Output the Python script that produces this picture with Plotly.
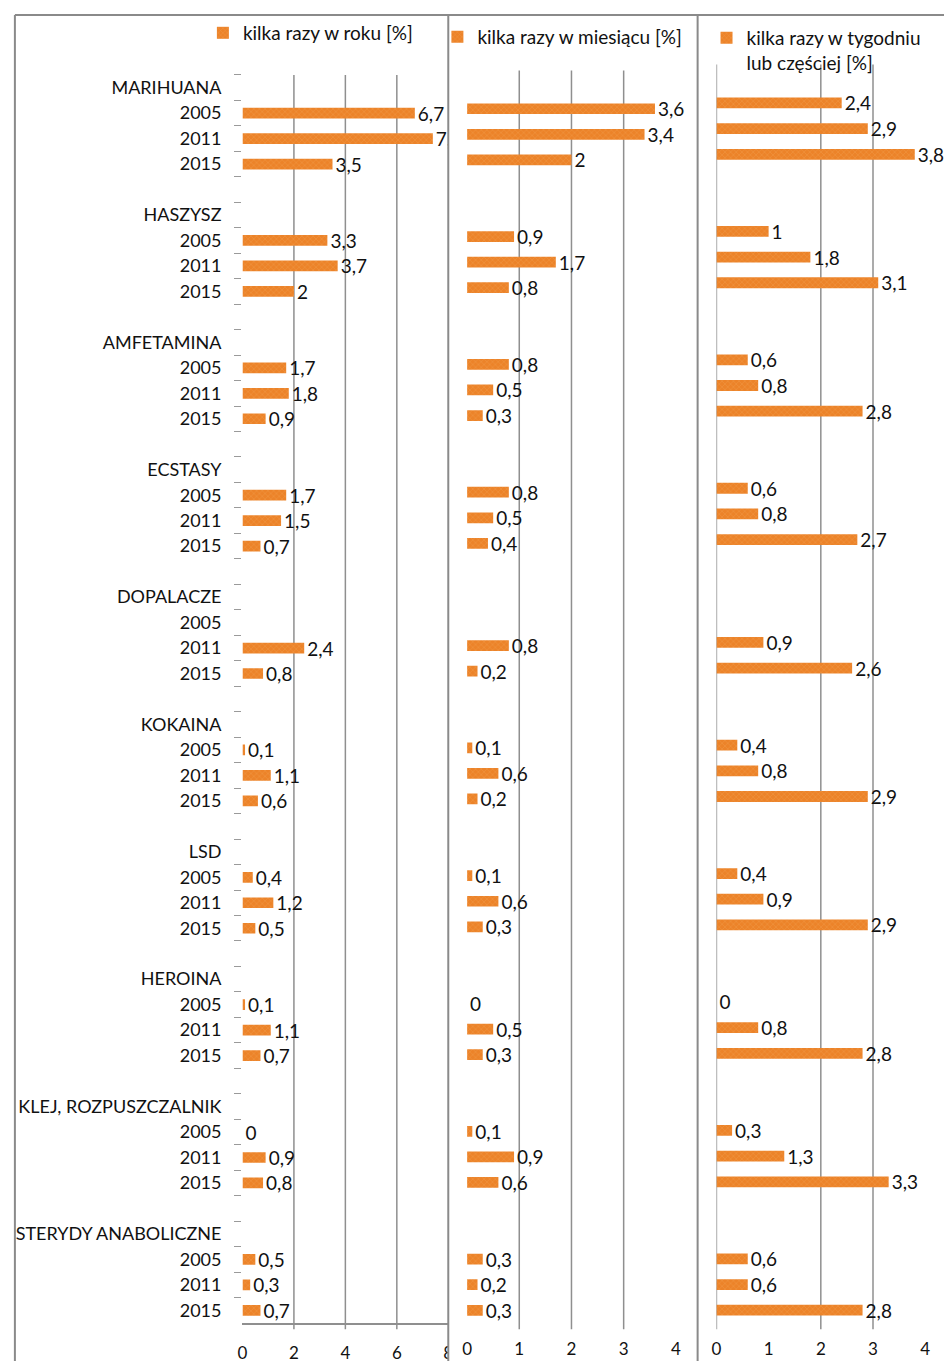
import plotly.graph_objects as go

# ---------------- data ----------------
drugs = ["MARIHUANA", "HASZYSZ", "AMFETAMINA", "ECSTASY", "DOPALACZE",
         "KOKAINA", "LSD", "HEROINA", "KLEJ, ROZPUSZCZALNIK", "STERYDY ANABOLICZNE"]
years = ["2005", "2011", "2015"]

# values per drug, in order 2005, 2011, 2015  (None = no data)
kilka_razy_w_roku = [6.7, 7.4, 3.5,  3.3, 3.7, 2,  1.7, 1.8, 0.9,  1.7, 1.5, 0.7,
                     None, 2.4, 0.8,  0.1, 1.1, 0.6,  0.4, 1.2, 0.5,  0.1, 1.1, 0.7,
                     0, 0.9, 0.8,  0.5, 0.3, 0.7]
kilka_razy_w_miesiacu = [3.6, 3.4, 2,  0.9, 1.7, 0.8,  0.8, 0.5, 0.3,  0.8, 0.5, 0.4,
                         None, 0.8, 0.2,  0.1, 0.6, 0.2,  0.1, 0.6, 0.3,  0, 0.5, 0.3,
                         0.1, 0.9, 0.6,  0.3, 0.2, 0.3]
kilka_razy_w_tygodniu = [2.4, 2.9, 3.8,  1, 1.8, 3.1,  0.6, 0.8, 2.8,  0.6, 0.8, 2.7,
                         None, 0.9, 2.6,  0.4, 0.8, 2.9,  0.4, 0.9, 2.9,  0, 0.8, 2.8,
                         0.3, 1.3, 3.3,  0.6, 0.6, 2.8]

series_names = ["kilka razy w roku [%]", "kilka razy w miesiącu [%]",
                "kilka razy w tygodniu<br>lub częściej [%]"]
x_ticks = [[0, 2, 4, 6, 8], [0, 1, 2, 3, 4], [0, 1, 2, 3, 4]]
x_ranges = [[0, 8], [0, 4], [0, 4]]
grid_values = [[2, 4, 6], [1, 2, 3], [0, 2, 3]]

# ---------------- layout helpers ----------------
W, H = 949, 1363
ORANGE = "#EE8A2E"
FONT = "Lato"
GRID = "#8f8f8f"


def fx(px):
    return px / W


def fy(px):
    return 1 - px / H


ROWS_PER_GROUP = 5  # header + 3 years + spacer
n_rows = ROWS_PER_GROUP * (len(drugs) - 1) + 4

# row positions derived from the data structure
bar_rows = []
tickvals, ticktext = [], []
for i, d in enumerate(drugs):
    base = ROWS_PER_GROUP * i
    tickvals.append(base)
    ticktext.append(d)
    for j, yr in enumerate(years):
        bar_rows.append(base + 1 + j)
        tickvals.append(base + 1 + j)
        ticktext.append(yr)


def fmt(v):
    return "" if v is None else f"{v:g}".replace(".", ",")


fig = go.Figure()
all_series = [kilka_razy_w_roku, kilka_razy_w_miesiacu, kilka_razy_w_tygodniu]
for k, vals in enumerate(all_series):
    sfx = "" if k == 0 else str(k + 1)
    fig.add_trace(go.Bar(
        x=vals, y=bar_rows, orientation="h",
        name=series_names[k],
        xaxis="x" + sfx, yaxis="y" + sfx,
        legend="legend" + sfx,
        showlegend=True,
        width=0.42,
        marker=dict(color=ORANGE, line=dict(width=0),
                    pattern=dict(shape="x", fgcolor="#F6B26C", bgcolor="#EC8329",
                                 size=4, solidity=0.2)),
        text=[fmt(v) for v in vals],
        textposition="outside",
        constraintext="none",
        textfont=dict(family=FONT, size=19, color="#111"),
        cliponaxis=(k == 0),
        hoverinfo="skip",
    ))

# axes
x_domains = [[fx(240), fx(448)], [fx(467), fx(678)], [fx(719), fx(930)]]
y_tops = [75, 70.5, 64.5]
bottom = 1325
layout = dict(
    width=W, height=H,
    margin=dict(l=0, r=0, t=0, b=0),
    paper_bgcolor="white", plot_bgcolor="rgba(0,0,0,0)",
    font=dict(family=FONT, size=18, color="#111"),
    showlegend=True,
)
for k in range(3):
    sfx = "" if k == 0 else str(k + 1)
    layout["xaxis" + sfx] = dict(
        domain=x_domains[k], range=x_ranges[k], tickvals=x_ticks[k],
        showgrid=False, zeroline=False, ticks="", ticklabelstandoff=14,
        showline=(k == 0), linecolor=GRID, linewidth=1.5,
        tickfont=dict(family=FONT, size=17, color="#111"),
        anchor="y" + sfx, fixedrange=True,
    )
    ydict = dict(
        domain=[fy(bottom), fy(y_tops[k])],
        range=[n_rows - 0.5, -0.5],
        showgrid=False, zeroline=False, showline=False,
        anchor="x" + sfx, fixedrange=True,
    )
    if k == 0:
        ydict.update(
            tickvals=tickvals, ticktext=ticktext, ticks="",
            ticklabelstandoff=20,
            tickfont=dict(family=FONT, size=18, color="#111"),
            minor=dict(tickvals=[r + 0.5 for r in range(-1, n_rows - 1)],
                       ticks="outside", ticklen=7, tickcolor="#9a9a9a", tickwidth=1),
        )
    else:
        ydict.update(showticklabels=False, ticks="")
    layout["yaxis" + sfx] = ydict

# legends
legend_common = dict(bgcolor="rgba(0,0,0,0)", borderwidth=0, xanchor="left",
                     font=dict(family=FONT, size=19, color="#111"),
                     itemclick=False, itemdoubleclick=False, visible=True)
layout["legend"] = dict(legend_common, x=fx(200), y=fy(33), yanchor="middle")
layout["legend2"] = dict(legend_common, x=fx(437), y=fy(37), yanchor="middle")
layout["legend3"] = dict(legend_common, x=fx(709), y=fy(19), yanchor="top", valign="top")
fig.update_layout(**layout)

# gridlines
for k in range(3):
    sfx = "" if k == 0 else str(k + 1)
    for v in grid_values[k]:
        fig.add_shape(type="line", xref="x" + sfx, yref="y" + sfx + " domain",
                      x0=v, x1=v, y0=-0.005, y1=1,
                      line=dict(color=GRID, width=1.5), layer="below")

# hide the half tick label cut by the next chart
fig.add_shape(type="rect", xref="paper", yref="paper",
              x0=fx(448), x1=fx(461), y0=0, y1=fy(1333),
              fillcolor="white", line=dict(width=0), layer="above")

# frame / chart borders
BORDER = "#8a8a8a"
fig.add_shape(type="line", xref="paper", yref="paper", x0=fx(10), x1=1,
              y0=fy(15), y1=fy(15), line=dict(color=BORDER, width=2), layer="above")
for xp in [10, 448, 700]:
    fig.add_shape(type="line", xref="paper", yref="paper", x0=fx(xp), x1=fx(xp),
                  y0=0, y1=fy(15), line=dict(color=BORDER, width=2), layer="above")

fig.write_html(
    "out.html",
    config={"displayModeBar": False, "responsive": False},
    post_script="document.body.style.margin='0';document.body.style.overflow='hidden';",
)
